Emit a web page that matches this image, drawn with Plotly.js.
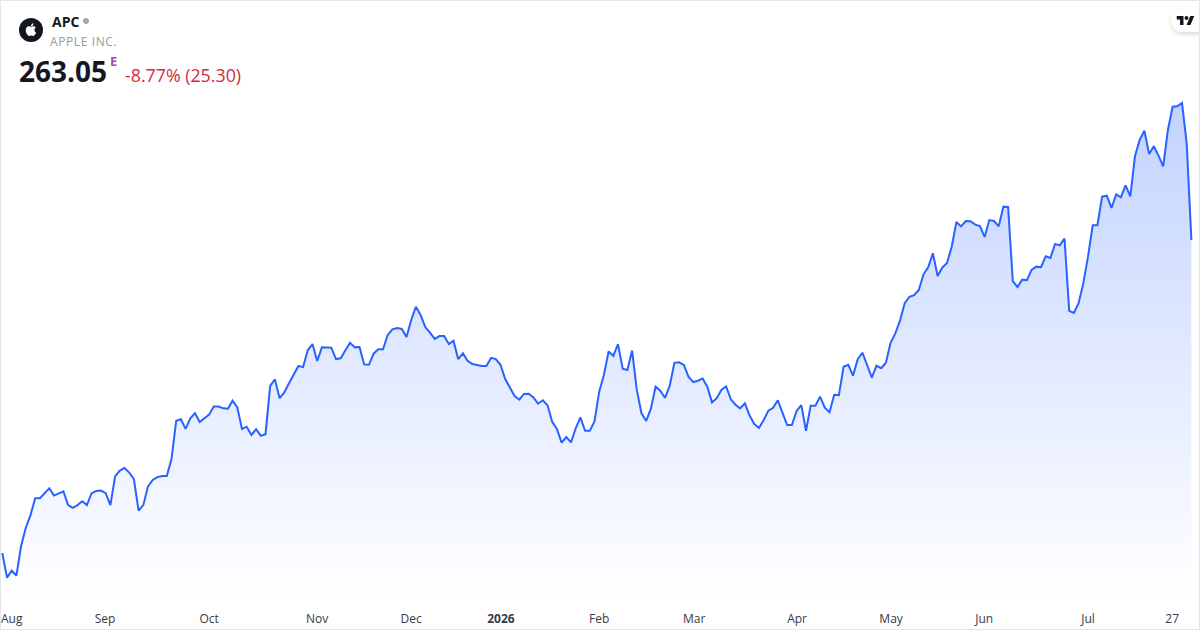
<!DOCTYPE html>
<html>
<head>
<meta charset="utf-8">
<title>APC</title>
<script src="https://cdn.plot.ly/plotly-3.0.1.min.js"></script>
<style>html,body{margin:0;padding:0;background:#fff;}#c{width:1200px;height:630px;}
.annotation[data-index="1"] text{letter-spacing:0.6px;}</style>
</head>
<body>
<div id="c"></div>
<script>
const prices = [
181.4,175.0,176.8,175.5,183.25,188.0,191.3,195.7,195.7,197.15,198.3,196.4,197.0,197.5,193.9,193.2,193.9,194.9,193.9,197.0,
197.6,197.7,197.0,193.9,201.4,202.9,203.6,202.4,200.7,192.45,193.9,198.8,200.45,201.2,201.5,201.5,205.9,215.9,216.3,213.8,
216.55,217.85,215.6,216.55,217.5,219.6,219.6,219.15,219.05,221.15,219.4,213.75,214.35,212.2,213.7,212.0,212.4,225.0,226.7,221.8,
223.3,225.7,227.85,230.2,229.9,234.35,235.9,231.5,235.05,235.05,234.95,232.0,232.2,234.3,236.25,235.05,235.15,230.6,230.5,233.4,
234.55,234.55,238.3,239.75,240.1,239.85,237.75,242.2,245.65,243.5,240.3,238.9,237.25,238.0,238.0,235.9,236.8,231.95,233.5,231.55,
230.7,230.45,230.2,230.2,232.3,232.0,230.5,226.8,224.4,222.35,221.4,222.9,222.95,222.0,220.35,221.25,219.95,215.65,213.75,210.2,
211.65,210.25,213.95,216.8,213.3,213.3,215.75,223.5,227.85,234.0,232.8,235.9,229.5,229.15,234.2,223.95,217.85,215.85,219.05,224.8,
223.75,221.9,225.0,231.0,231.15,230.45,227.4,226.0,226.35,226.9,224.8,220.7,221.8,223.95,224.9,221.5,220.1,219.15,220.45,217.25,
215.05,214.0,216.1,218.55,219.3,221.25,217.95,214.8,214.8,218.45,220.0,213.3,219.85,219.85,222.2,219.3,218.1,222.7,222.6,230.0,
230.5,227.65,231.95,233.65,230.45,227.15,230.25,229.6,231.05,236.25,238.7,242.0,246.55,248.25,248.65,250.0,254.1,255.95,259.6,253.65,
255.85,257.05,261.3,267.75,266.6,268.0,267.95,267.05,266.7,263.85,268.25,268.0,266.6,271.75,271.65,252.35,250.8,252.7,252.55,255.25,
256.1,255.95,258.8,258.35,262.0,261.65,263.45,244.55,244.0,246.55,251.75,258.7,266.9,266.9,274.35,274.6,271.4,274.95,274.2,277.3,
274.45,284.95,289.15,291.55,285.5,287.5,285.05,282.25,291.75,297.8,297.9,298.8,288.25,263.05
];
const sessions = prices.map((_, i) => i);
const tickPositions = [2, 21.85, 44, 67, 87, 106.1, 127, 147.2, 169.1, 189.1, 208.9, 231, 248.9];
const tickLabels = ['Aug','Sep','Oct','Nov','Dec','<b>2026</b>','Feb','Mar','Apr','May','Jun','Jul','27'];
const ticker = 'APC', company = 'APPLE INC.', lastPrice = '263.05', change = '-8.77% (25.30)';

const W = 1200, H = 630, PLOT_H = 610;
const px = x => x / W, py = y => 1 - y / PLOT_H;
const svgUri = s => 'data:image/svg+xml;charset=utf-8,' + encodeURIComponent(s);
const img = (s, x, y, w, h) => ({source: svgUri(s), xref:'paper', yref:'paper', x:px(x), y:py(y), sizex:w/W, sizey:h/PLOT_H, xanchor:'left', yanchor:'top', sizing:'stretch', layer:'above'});
const note = (text, x, y, size, color, anchor) => ({text, xref:'paper', yref:'paper', x:px(x), y:py(y), xanchor:anchor||'left', yanchor:'middle', showarrow:false, borderpad:0, font:{family:'"Open Sans", sans-serif', size, color}});

const appleLogo = '<svg xmlns="http://www.w3.org/2000/svg" width="24" height="24" viewBox="0 0 24 24"><circle cx="12" cy="12" r="12" fill="#131722"/><g transform="translate(5.6 5.2) scale(0.53)"><path fill="#fff" d="M12.152 6.896c-.948 0-2.415-1.078-3.96-1.04-2.04.027-3.91 1.183-4.961 3.014-2.117 3.675-.546 9.103 1.519 12.09 1.013 1.454 2.208 3.09 3.792 3.039 1.52-.065 2.09-.987 3.935-.987 1.831 0 2.35.987 3.96.948 1.637-.026 2.676-1.48 3.676-2.948 1.156-1.688 1.636-3.325 1.662-3.415-.039-.013-3.182-1.221-3.22-4.857-.026-3.04 2.48-4.494 2.597-4.559-1.429-2.09-3.623-2.324-4.39-2.376-2-.156-3.675 1.09-4.61 1.09zM15.53 3.83c.843-1.012 1.4-2.427 1.245-3.83-1.207.052-2.662.805-3.532 1.818-.78.896-1.454 2.338-1.273 3.714 1.338.104 2.715-.688 3.559-1.701"/></g></svg>';
const pill = '<svg xmlns="http://www.w3.org/2000/svg" width="44" height="44" viewBox="0 0 44 44"><defs><filter id="s" x="-50%" y="-50%" width="200%" height="200%"><feDropShadow dx="0" dy="2" stdDeviation="2" flood-color="#000" flood-opacity="0.16"/></filter></defs><path filter="url(#s)" fill="#fff" d="M26.5 9H60V32H26.5a11.5 11.5 0 0 1 0-23z"/></svg>';
const tvLogo = '<svg xmlns="http://www.w3.org/2000/svg" width="18" height="9" viewBox="0 4 36 18" preserveAspectRatio="none"><path fill="#131722" d="M14 22H7V11H0V4h14v18zM28 22h-8l7.5-18h8L28 22z"/><circle cx="20" cy="8" r="4" fill="#131722"/></svg>';

const line = {
  x: sessions, y: prices, type:'scatter', mode:'lines',
  line:{color:'#2962ff', width:2, shape:'linear'},
  fill:'tozeroy',
  fillgradient:{type:'vertical', start:298.8, stop:169.2, colorscale:[[0,'rgba(41,98,255,0.28)'],[1,'rgba(41,98,255,0)']]},
  hoverinfo:'skip'
};
const layout = {
  width:W, height:H, autosize:false, showlegend:false,
  paper_bgcolor:'#fff', plot_bgcolor:'#fff',
  margin:{l:0, r:0, t:0, b:20, pad:0, autoexpand:false},
  xaxis:{range:[-0.49, 254.83], tickmode:'array', tickvals:tickPositions, ticktext:tickLabels, ticks:'', showgrid:false, zeroline:false, showline:false,
         tickangle:0, tickfont:{family:'"Open Sans", sans-serif', size:12, color:'#363a45'}, automargin:false, fixedrange:true},
  yaxis:{range:[166.55, 325.64], visible:false, showgrid:false, zeroline:false, fixedrange:true},
  shapes:[
    {type:'rect', xref:'paper', yref:'paper', x0:px(0.5), x1:px(1199.5), y0:py(0.5), y1:py(629.5), line:{color:'#e6e6e6', width:1}, fillcolor:'rgba(0,0,0,0)', layer:'above'},
    {type:'circle', xref:'paper', yref:'paper', x0:px(83), x1:px(89), y0:py(18), y1:py(24), line:{width:0}, fillcolor:'#a6a6a6', layer:'above'}
  ],
  images:[
    img(appleLogo, 19, 18, 24, 24),
    img(pill, 1156, 0, 44, 44),
    img(tvLogo, 1176.5, 16, 18, 9)
  ],
  annotations:[
    note('<b>'+ticker+'</b>', 51, 21, 14, '#131722'),
    note(company, 51.5, 41, 12, '#9a9a9a'),
    note('<b>'+lastPrice+'</b>', 18, 71, 28, '#131722'),
    note('<b>E</b>', 109, 61, 13, '#ab47bc'),
    note(change, 123.5, 75, 17.8, '#d9283f')
  ]
};
Plotly.newPlot('c', [line], layout, {displayModeBar:false, staticPlot:true, responsive:false});
</script>
</body>
</html>
